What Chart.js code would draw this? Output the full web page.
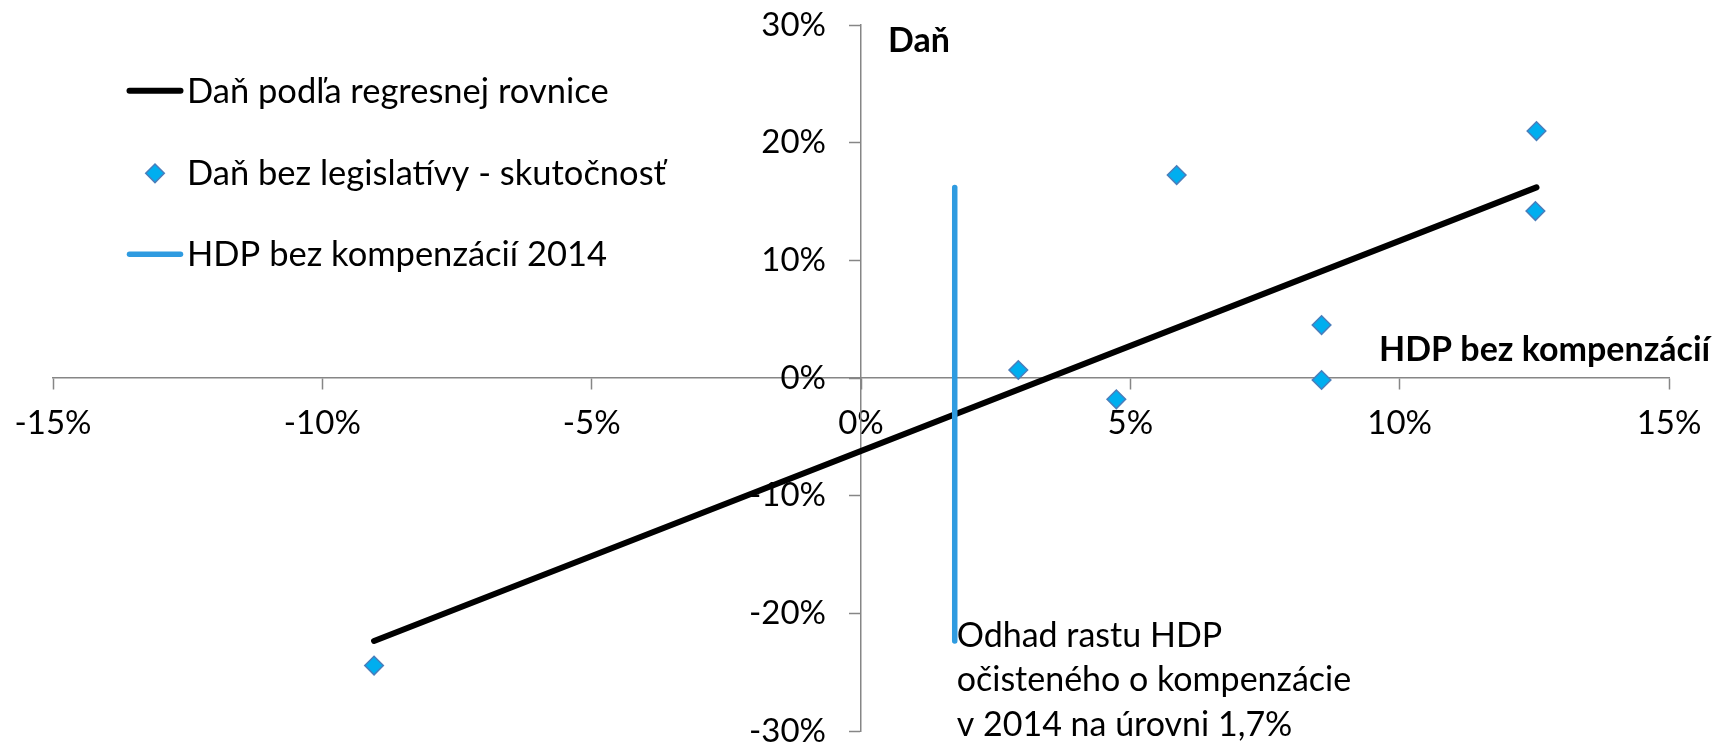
<!DOCTYPE html>
<html><head><meta charset="utf-8">
<script src="https://cdn.jsdelivr.net/npm/chart.js@4/dist/chart.umd.min.js"></script>
<style>html,body{margin:0;padding:0;background:#fff;}#wrap{width:1724px;height:742px;}</style>
</head><body><div id="wrap"><canvas id="c" width="1724" height="742"></canvas></div>
<script>
// ---- data ----
const seriesLabels = ['Daň podľa regresnej rovnice', 'Daň bez legislatívy - skutočnosť', 'HDP bez kompenzácií 2014'];
const regressionX = [-9.04, 12.54];
const regressionY = [-22.35, 16.2];
const actualX = [-9.04, 2.92, 4.74, 5.86, 8.55, 8.55, 12.54, 12.52];
const actualY = [-24.44, 0.68, -1.81, 17.25, 4.5, -0.17, 20.99, 14.19];
const hdp2014X = [1.74, 1.74];
const hdp2014Y = [-22.35, 16.2];
const xTicks = [-15, -10, -5, 0, 5, 10, 15];
const yTicks = [-30, -20, -10, 0, 10, 20, 30];
const xAxisTitle = 'HDP bez kompenzácií';
const yAxisTitle = 'Daň';
const noteLines = ['Odhad rastu HDP', 'očisteného o kompenzácie', 'v 2014 na úrovni 1,7%'];

const toPts = (xs, ys) => xs.map((x, i) => ({x: x, y: ys[i]}));
const AXIS = '#868686';
const FONT = 'Lato';
const Y_TICK_LEN = 11, Y_LABEL_GAP = 24;

const textPlugin = {
  id: 'texts',
  afterDraw(chart) {
    const ctx = chart.ctx;
    const xs = chart.scales.x, ys = chart.scales.y;
    const x0 = xs.getPixelForValue(0), y0 = ys.getPixelForValue(0);
    ctx.save();
    ctx.fillStyle = '#000';
    ctx.textBaseline = 'alphabetic';
    ctx.textAlign = 'left';
    // axis titles
    ctx.font = 'bold 34px ' + FONT;
    ctx.fillText(yAxisTitle, x0 + 27, 52);
    ctx.fillText(xAxisTitle, 1379, y0 - 17);
    // note under blue line
    ctx.font = '34px ' + FONT;
    const nx = xs.getPixelForValue(hdp2014X[0]) + 2;
    const nb = [646.5, 691, 735.5];
    noteLines.forEach((t, i) => ctx.fillText(t, nx, nb[i]));
    // legend
    const rows = [90.7, 173.3, 254.3];
    chart.data.datasets.forEach((ds, i) => {
      const cy = rows[i];
      if (ds.showLine) {
        ctx.strokeStyle = ds.borderColor;
        ctx.lineWidth = ds.borderWidth;
        ctx.lineCap = 'round';
        ctx.beginPath();
        ctx.moveTo(129.5, cy);
        ctx.lineTo(180.5, cy);
        ctx.stroke();
      } else {
        ctx.fillStyle = ds.backgroundColor;
        ctx.strokeStyle = ds.borderColor;
        ctx.lineWidth = ds.borderWidth;
        Chart.helpers.drawPoint(ctx, {pointStyle: ds.pointStyle, radius: ds.pointRadius, borderWidth: ds.borderWidth, rotation: 0}, 155, cy);
      }
      ctx.fillStyle = '#000';
      ctx.font = '34.5px ' + FONT;
      ctx.fillText(ds.label, 187, cy + 12);
    });
    ctx.restore();
  }
};

const noPad = s => { s.paddingLeft = 0; s.paddingRight = 0; s.paddingTop = 0; s.paddingBottom = 0; };

// a y axis placed at x = 0 puts its labels right on the axis line; move them left past the tick marks
const shiftYLabels = s => {
  if (s._labelShiftPatched) return;
  const orig = s._computeLabelItems.bind(s);
  s._computeLabelItems = ca => orig(ca).map(it => { it.options.translation[0] -= (Y_TICK_LEN + Y_LABEL_GAP); return it; });
  s._labelShiftPatched = true;
};

new Chart(document.getElementById('c'), {
  type: 'scatter',
  data: {
    datasets: [
      { label: seriesLabels[0], data: toPts(regressionX, regressionY), showLine: true,
        borderColor: '#000000', backgroundColor: '#000000', borderWidth: 6, borderCapStyle: 'round',
        pointRadius: 0, pointHoverRadius: 0, order: 2 },
      { label: seriesLabels[1], data: toPts(actualX, actualY), showLine: false,
        pointStyle: 'rectRot', pointRadius: 9.3, pointHoverRadius: 9.3,
        backgroundColor: '#00aeef', borderColor: '#4a7ebb', borderWidth: 1.5, order: 0 },
      { label: seriesLabels[2], data: toPts(hdp2014X, hdp2014Y), showLine: true,
        borderColor: '#2f9be0', backgroundColor: '#2f9be0', borderWidth: 5.5, borderCapStyle: 'round',
        pointRadius: 0, pointHoverRadius: 0, order: 1 }
    ]
  },
  options: {
    responsive: false,
    animation: false,
    layout: { padding: { left: 53, right: 55, top: 25, bottom: 11 } },
    plugins: { legend: { display: false }, tooltip: { enabled: false } },
    scales: {
      x: {
        type: 'linear', min: xTicks[0], max: xTicks[xTicks.length - 1], position: { y: 0 },
        afterBuildTicks: s => { s.ticks = xTicks.map(v => ({ value: v })); },
        afterFit: noPad,
        ticks: { callback: v => v + '%', color: '#000', font: { family: FONT, size: 33 }, padding: 15, maxRotation: 0, autoSkip: false },
        grid: { drawOnChartArea: false, drawTicks: true, tickLength: 11, tickWidth: 1.5, color: AXIS },
        border: { display: true, color: AXIS, width: 1.5 }
      },
      y: {
        type: 'linear', min: yTicks[0], max: yTicks[yTicks.length - 1], position: { x: 0 },
        afterBuildTicks: s => { s.ticks = yTicks.map(v => ({ value: v })); },
        afterFit: noPad,
        afterUpdate: shiftYLabels,
        ticks: { callback: v => v + '%', color: '#000', font: { family: FONT, size: 33 }, padding: Y_LABEL_GAP, autoSkip: false },
        grid: { drawOnChartArea: false, drawTicks: true, tickLength: Y_TICK_LEN, tickWidth: 1.5, color: AXIS },
        border: { display: true, color: AXIS, width: 1.5 }
      }
    }
  },
  plugins: [textPlugin]
});
</script></body></html>
